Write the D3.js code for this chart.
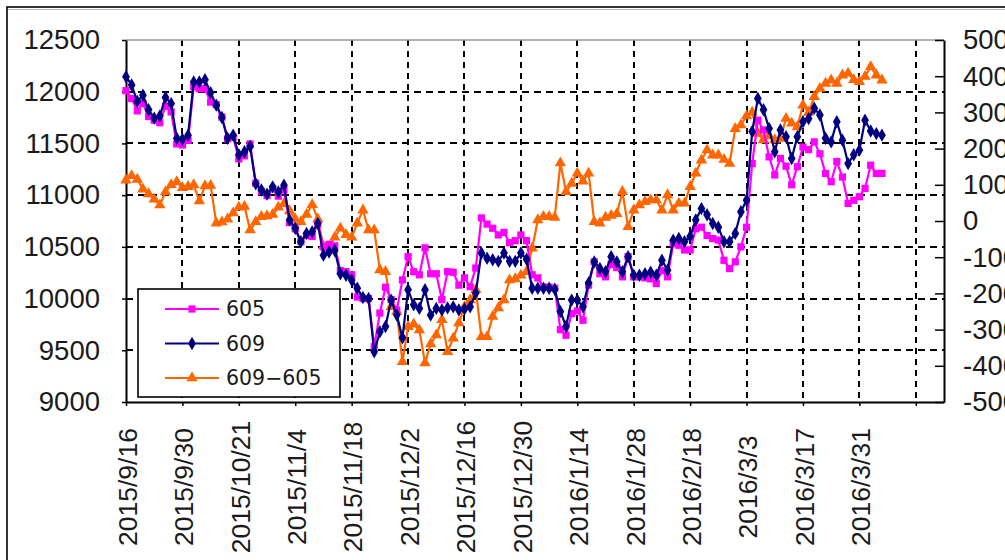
<!DOCTYPE html>
<html>
<head>
<meta charset="utf-8">
<script src="https://cdn.jsdelivr.net/npm/d3@7"></script>
<style>
  body { margin: 0; background: #fff; overflow: hidden; }
  svg { display: block; }
</style>
</head>
<body>
<script>
// tick labels every 10 trading days, last tick has no date
var tickLabels = ["2015/9/16", "2015/9/30", "2015/10/21", "2015/11/4", "2015/11/18", "2015/12/2",
    "2015/12/16", "2015/12/30", "2016/1/14", "2016/1/28", "2016/2/18", "2016/3/3", "2016/3/17", "2016/3/31", ""];
var tickIndex = [0, 10, 20, 30, 40, 50, 60, 70, 80, 90, 100, 110, 120, 130, 140];
var categoryCount = 146;

var leftTicks = [9000, 9500, 10000, 10500, 11000, 11500, 12000, 12500];
var rightTicks = [-500, -400, -300, -200, -100, 0, 100, 200, 300, 400, 500];

var s605 = [
    12010, 11935, 11815, 11885, 11760, 11725, 11700, 11860, 11805, 11495,
    11485, 11530, 12050, 12030, 12030, 11900, 11875, 11755, 11545, 11560,
    11350, 11380, 11495, 11115, 11035, 10995, 11060, 10990, 11050, 10735,
    10675, 10550, 10610, 10600, 10720, 10500, 10525, 10510, 10270, 10260,
    10230, 10015, 10000, 10000, 9535, 9860, 10110, 9990, 9890, 10180,
    10405, 10260, 10230, 10490, 10240, 10240, 9990, 10260, 10255, 10130,
    10200, 10115, 10295, 10780, 10720, 10680, 10615, 10640, 10540, 10560,
    10615, 10560, 10230, 10200, 10110, 10110, 10100, 9700, 9645, 9855,
    9880, 9790, 10130, 10355, 10240, 10210, 10330, 10300, 10210, 10405,
    10210, 10210, 10200, 10190, 10145, 10270, 10210, 10530, 10515, 10470,
    10470, 10675, 10690, 10610, 10580, 10565, 10370, 10290, 10355, 10500,
    10690, 11305, 11725, 11630, 11370, 11195, 11355, 11280, 11100, 11275,
    11465, 11440, 11515, 11400, 11210, 11130, 11325, 11175, 10920, 10950,
    10985, 11065, 11290, 11210, 11210
];

var s609 = [
    12145, 12065, 11905, 11965, 11825, 11745, 11765, 11945, 11885, 11550,
    11540, 11580, 12095, 12095, 12115, 11990, 11870, 11750, 11550, 11580,
    11390, 11420, 11470, 11110, 11050, 11010, 11080, 11030, 11095, 10760,
    10680, 10550, 10630, 10645, 10725, 10420, 10450, 10465, 10240, 10225,
    10180, 10100, 10010, 10000, 9485, 9680, 9730, 9985, 9840, 9620,
    10085, 9940, 9905, 10085, 9840, 9905, 9890, 9910, 9920, 9890,
    9900, 9920, 10055, 10440, 10390, 10375, 10360, 10440, 10360, 10360,
    10440, 10380, 10100, 10100, 10100, 10100, 10090, 9875, 9730, 9985,
    9985, 9920, 10150, 10355, 10290, 10260, 10405, 10355, 10260, 10405,
    10225, 10225, 10240, 10255, 10225, 10370, 10275, 10565, 10580, 10550,
    10600, 10760, 10870, 10810, 10725, 10690, 10550, 10550, 10630, 10840,
    10950, 11615, 11935, 11825, 11645, 11420, 11630, 11565, 11355, 11565,
    11710, 11740, 11840, 11775, 11550, 11515, 11710, 11530, 11305, 11390,
    11435, 11725, 11620, 11595, 11580
];

var spread = [
    113, 125, 115, 88, 75, 60, 44, 80, 100, 108,
    92, 95, 100, 55, 97, 98, -6, -3, 5, 22,
    38, 40, -25, -2, 12, 14, 18, 38, 48, 28,
    5, -2, 18, 45, 5, -70, -75, -45, -20, -38,
    -45, -6, 30, -25, -25, -135, -140, -237, -250, -389,
    -292, -285, -301, -392, -340, -315, -273, -361, -324, -282,
    -237, -218, -190, -320, -320, -264, -240, -218, -163, -160,
    -150, -140, -75, 3, 12, 12, 10, 160, 81, 104,
    132, 110, 132, -2, -6, 10, 15, 20, 81, -16,
    30, 44, 53, 58, 58, 30, 72, 30, 49, 49,
    95, 132, 168, 196, 182, 182, 170, 159, 255, 265,
    290, 300, 242, 224, 235, 224, 228, 283, 270, 260,
    320, 300, 343, 366, 380, 389, 380, 403, 408, 390,
    385, 399, 426, 403, 389
];

var seriesNames = ["605", "609", "609\u2212605"];

var width = 1005, height = 560;
var plot = { left: 126, right: 944, top: 40, bottom: 402 };

var svg = d3.select("body").append("svg")
    .attr("width", width)
    .attr("height", height);

// outer chart frame
svg.append("rect")
    .attr("x", 7).attr("y", 7)
    .attr("width", 1200).attr("height", 800)
    .attr("fill", "#fff")
    .attr("stroke", "#000").attr("stroke-width", 1.6);
svg.append("line")
    .attr("x1", 8).attr("x2", width).attr("y1", 9.5).attr("y2", 9.5)
    .attr("stroke", "#bbb").attr("stroke-width", 1);

var x = d3.scaleLinear().domain([0, categoryCount - 1]).range([plot.left, plot.right]);
var yL = d3.scaleLinear().domain([9000, 12500]).range([plot.bottom, plot.top]);
var yR = d3.scaleLinear().domain([-500, 500]).range([plot.bottom, plot.top]);

var grid = svg.append("g").attr("class", "grid");
grid.selectAll("line.h")
    .data(leftTicks.filter(function (d) { return d > 9000 && d < 12500; }))
    .enter().append("line")
    .attr("x1", plot.left).attr("x2", plot.right)
    .attr("y1", function (d) { return Math.round(yL(d)); })
    .attr("y2", function (d) { return Math.round(yL(d)); })
    .attr("stroke", "#000").attr("stroke-width", 2)
    .attr("stroke-dasharray", "7,5");
grid.selectAll("line.v")
    .data(tickIndex.filter(function (d) { return d > 0; }))
    .enter().append("line")
    .attr("x1", function (d) { return Math.round(x(d)); })
    .attr("x2", function (d) { return Math.round(x(d)); })
    .attr("y1", plot.top).attr("y2", plot.bottom)
    .attr("stroke", "#000").attr("stroke-width", 2)
    .attr("stroke-dasharray", "6,5");

// top border of plot area
svg.append("line")
    .attr("x1", plot.left).attr("x2", plot.right)
    .attr("y1", plot.top).attr("y2", plot.top)
    .attr("stroke", "#999").attr("stroke-width", 1.5);

var labelFont = "'Liberation Sans', Arial, sans-serif";

// left axis
var leftAxis = svg.append("g")
    .attr("transform", "translate(" + plot.left + ",0)")
    .call(d3.axisLeft(yL).tickValues(leftTicks).tickSizeInner(4).tickSizeOuter(0).tickPadding(22)
        .tickFormat(function (d) { return String(d); }));
leftAxis.select(".domain").attr("stroke", "#000").attr("stroke-width", 2);
leftAxis.selectAll(".tick line").attr("stroke", "#000").attr("stroke-width", 1.5);
leftAxis.selectAll("text")
    .attr("fill", "#1a1a1a")
    .style("font-family", labelFont).style("font-size", "27.5px");

// right axis
var rightAxis = svg.append("g")
    .attr("transform", "translate(" + plot.right + ",0)")
    .call(d3.axisRight(yR).tickValues(rightTicks).tickSizeInner(-9).tickSizeOuter(0).tickPadding(19)
        .tickFormat(function (d) { return String(d); }));
rightAxis.select(".domain").attr("stroke", "#000").attr("stroke-width", 2);
rightAxis.selectAll(".tick line").attr("stroke", "#000").attr("stroke-width", 1.5);
rightAxis.selectAll("text")
    .attr("fill", "#1a1a1a")
    .style("font-family", labelFont).style("font-size", "27.5px");

// bottom axis
var bottomAxis = svg.append("g")
    .attr("transform", "translate(0," + plot.bottom + ")")
    .call(d3.axisBottom(x).tickValues(tickIndex).tickSizeInner(4).tickSizeOuter(0)
        .tickFormat(function (d, i) { return tickLabels[i]; }));
bottomAxis.select(".domain").attr("stroke", "#000").attr("stroke-width", 2);
bottomAxis.selectAll(".tick line").attr("stroke", "#000").attr("stroke-width", 1.5);
bottomAxis.selectAll("text")
    .attr("fill", "#1a1a1a")
    .attr("text-anchor", "middle")
    .attr("transform", "translate(1,85) rotate(-90)")
    .attr("x", 0).attr("y", 0).attr("dy", "0.35em")
    .style("font-family", labelFont).style("font-size", "26.5px");

// series
var series = [
    { name: seriesNames[2], values: spread, y: yR, color: "#FF6600", symbol: d3.symbolTriangle, size: 56 },
    { name: seriesNames[0], values: s605, y: yL, color: "#FF00FF", symbol: d3.symbolSquare, size: 52 },
    { name: seriesNames[1], values: s609, y: yL, color: "#000080", symbol: d3.symbolDiamond, size: 52 }
];

series.forEach(function (s) {
    var line = d3.line()
        .x(function (d, i) { return x(i); })
        .y(function (d) { return s.y(d); });
    var g = svg.append("g");
    g.append("path")
        .attr("d", line(s.values))
        .attr("fill", "none")
        .attr("stroke", s.color)
        .attr("stroke-width", 2.2);
    g.selectAll("path.m")
        .data(s.values)
        .enter().append("path")
        .attr("class", "m")
        .attr("transform", function (d, i) { return "translate(" + x(i) + "," + s.y(d) + ")"; })
        .attr("d", d3.symbol().type(s.symbol).size(s.size))
        .attr("fill", s.color);
});

// legend
var legendItems = [series[1], series[2], series[0]];
var legend = svg.append("g").attr("transform", "translate(138,289)");
legend.append("rect")
    .attr("width", 202).attr("height", 108)
    .attr("fill", "#fff")
    .attr("stroke", "#000").attr("stroke-width", 1.6);
var li = legend.selectAll("g.item")
    .data(legendItems)
    .enter().append("g")
    .attr("transform", function (d, i) { return "translate(0," + (20 + i * 34.5) + ")"; });
li.append("line")
    .attr("x1", 27).attr("x2", 81)
    .attr("stroke", function (d) { return d.color; })
    .attr("stroke-width", 2);
li.append("path")
    .attr("transform", "translate(54,0)")
    .attr("d", function (d) { return d3.symbol().type(d.symbol).size(d.size)(); })
    .attr("fill", function (d) { return d.color; });
li.append("text")
    .attr("x", 88).attr("dy", "0.36em")
    .attr("fill", "#1a1a1a")
    .style("font-family", "'DejaVu Sans', sans-serif").style("font-size", "20.5px")
    .text(function (d) { return d.name; });
</script>
</body>
</html>
